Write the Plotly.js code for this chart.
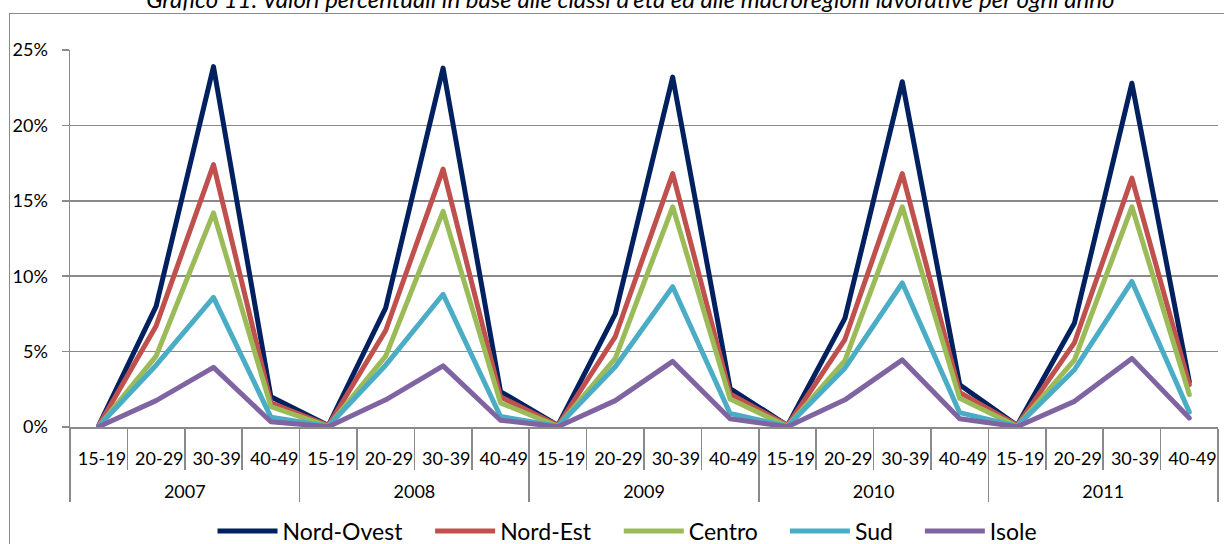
<!DOCTYPE html>
<html>
<head>
<meta charset="utf-8">
<script src="https://cdn.plot.ly/plotly-3.0.1.min.js"></script>
<style>
  html, body { margin: 0; padding: 0; background: #fff; }
  #wrap { position: relative; width: 1224px; height: 544px; overflow: hidden; }
  #chart { width: 1224px; height: 544px; }
  #frame { position: absolute; left: 9px; top: 13px; width: 1230px; height: 540px;
           border-left: 1.5px solid #8a8a8a; border-top: 1.5px solid #8a8a8a; pointer-events: none; }
  .scatterlayer path.js-line { stroke-linejoin: round; stroke-linecap: round; }
</style>
</head>
<body>
<div id="wrap">
  <div id="chart"></div>
  <div id="frame"></div>
</div>
<script>
const years = ['2007', '2008', '2009', '2010', '2011'];
const ages = ['15-19', '20-29', '30-39', '40-49'];

// values in percent, 4 age classes per year (2007..2011)
const nordOvest = [0.1, 8.0, 23.9, 2.0,  0.1, 7.9, 23.8, 2.35,  0.1, 7.5, 23.2, 2.55,  0.1, 7.2, 22.9, 2.8,  0.1, 6.9, 22.8, 3.0];
const nordEst   = [0.1, 6.7, 17.4, 1.6,  0.1, 6.4, 17.1, 2.0,   0.1, 6.0, 16.8, 2.2,   0.1, 5.8, 16.8, 2.3,  0.1, 5.6, 16.5, 2.8];
const centro    = [0.05, 4.7, 14.2, 1.35, 0.05, 4.7, 14.3, 1.6, 0.05, 4.55, 14.6, 1.85, 0.05, 4.4, 14.6, 1.9, 0.05, 4.45, 14.6, 2.15];
const sud       = [0.05, 4.1, 8.6, 0.65, 0.05, 4.1, 8.8, 0.7,  0.05, 4.0, 9.3, 0.9,   0.05, 3.9, 9.55, 0.95, 0.05, 3.8, 9.65, 1.0];
const isole     = [0.02, 1.75, 3.95, 0.35, 0.02, 1.8, 4.05, 0.45, 0.02, 1.75, 4.35, 0.55, 0.02, 1.8, 4.45, 0.55, 0.02, 1.7, 4.55, 0.6];

const seriesNames = ['Nord-Ovest', 'Nord-Est', 'Centro', 'Sud', 'Isole'];
const seriesValues = [nordOvest, nordEst, centro, sud, isole];
const colors = ['#002060', '#C0504D', '#9BBB59', '#4BACC6', '#8064A2'];

const xOuter = [];
const xInner = [];
years.forEach(y => ages.forEach(a => { xOuter.push(y); xInner.push(a); }));

const traces = seriesNames.map((name, i) => ({
  type: 'scatter',
  mode: 'lines',
  name: name,
  x: [xOuter, xInner],
  y: seriesValues[i],
  line: { color: colors[i], width: 5 },
  hoverinfo: 'skip'
}));

const fontFam = 'Lato, "Open Sans", sans-serif';
const grey = '#8a8a8a';

const layout = {
  width: 1224,
  height: 544,
  margin: { l: 70, r: 6, t: 50, b: 117, autoexpand: false },
  paper_bgcolor: '#fff',
  plot_bgcolor: '#fff',
  font: { family: fontFam, color: '#000', size: 18 },
  title: {
    text: "Grafico 11: Valori percentuali in base alle classi d'età ed alle macroregioni lavorative per ogni anno",
    font: { family: fontFam, size: 24, style: 'italic', color: '#000' },
    xref: 'container', x: 0.515, xanchor: 'center',
    yref: 'container', y: 1, yanchor: 'middle'
  },
  showlegend: true,
  legend: {
    orientation: 'h',
    x: 0.49, xanchor: 'center',
    y: -0.276, yanchor: 'middle',
    bgcolor: 'rgba(0,0,0,0)',
    font: { family: fontFam, size: 23, color: '#000' },
    itemwidth: 60,
    traceorder: 'normal'
  },
  xaxis: {
    type: 'multicategory',
    range: [-0.5, 19.5],
    autorange: false,
    showline: true, linecolor: grey, linewidth: 1.5,
    ticks: 'outside', ticklen: 41, tickcolor: grey, tickwidth: 1.5,
    tickson: 'boundaries',
    tickangle: 0.001,
    ticklabelshift: -21,
    ticklabelstandoff: 15,
    showdividers: true, dividercolor: grey, dividerwidth: 1.5,
    showgrid: false, zeroline: false,
    tickfont: { family: fontFam, size: 18, color: '#000' },
    automargin: false,
    fixedrange: true
  },
  yaxis: {
    range: [0, 25],
    autorange: false,
    dtick: 5,
    ticksuffix: '%',
    showline: true, linecolor: grey, linewidth: 1.5,
    ticks: 'outside', ticklen: 7, tickcolor: grey, tickwidth: 1.5,
    ticklabelstandoff: 10,
    showgrid: true, gridcolor: grey, gridwidth: 1.5,
    zeroline: false,
    tickfont: { family: fontFam, size: 18, color: '#000' },
    automargin: false,
    fixedrange: true
  }
};

Plotly.newPlot('chart', traces, layout, { displayModeBar: false, staticPlot: true }).then(gd => {
  // widen the gap between legend entries (styling only)
  gd.querySelectorAll('.legend .scrollbox, .legend').forEach(el => el.removeAttribute('clip-path'));
  gd.querySelectorAll('.legend [clip-path]').forEach(el => el.removeAttribute('clip-path'));
  const items = gd.querySelectorAll('.legend .traces');
  const extra = 22;
  const n = items.length;
  items.forEach((g, i) => {
    const t = g.getAttribute('transform') || '';
    const m = t.match(/translate\(\s*([-\d.]+)[ ,]\s*([-\d.]+)\s*\)/);
    if (m) {
      const x = parseFloat(m[1]) + i * extra - (n - 1) * extra / 2 - 5;
      g.setAttribute('transform', 'translate(' + x + ',' + m[2] + ')');
    }
  });
});
</script>
</body>
</html>
